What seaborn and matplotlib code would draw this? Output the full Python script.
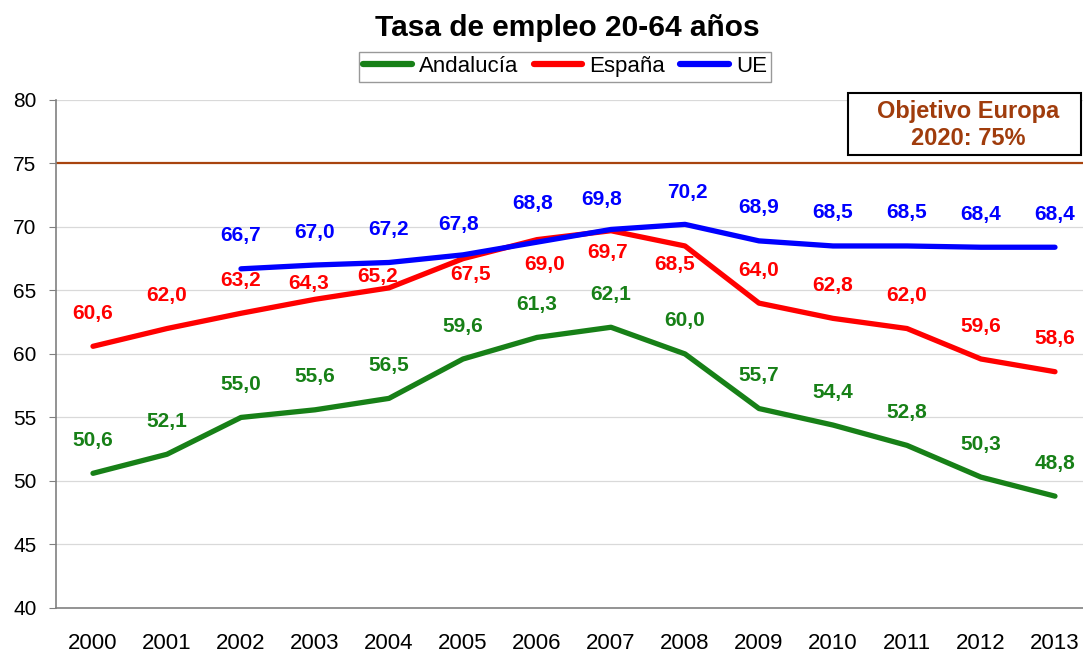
import numpy as np
import pandas as pd
import seaborn as sns
from matplotlib import pyplot as plt
from matplotlib.patches import Rectangle

years = [2000, 2001, 2002, 2003, 2004, 2005, 2006, 2007, 2008, 2009, 2010, 2011, 2012, 2013]
andalucia = [50.6, 52.1, 55.0, 55.6, 56.5, 59.6, 61.3, 62.1, 60.0, 55.7, 54.4, 52.8, 50.3, 48.8]
espana = [60.6, 62.0, 63.2, 64.3, 65.2, 67.5, 69.0, 69.7, 68.5, 64.0, 62.8, 62.0, 59.6, 58.6]
ue_years = [2002, 2003, 2004, 2005, 2006, 2007, 2008, 2009, 2010, 2011, 2012, 2013]
ue = [66.7, 67.0, 67.2, 67.8, 68.8, 69.8, 70.2, 68.9, 68.5, 68.5, 68.4, 68.4]
objetivo = 75

colors = {"Andalucía": "#178017", "España": "#ff0000", "UE": "#0000ff"}

# label placement (pixels), default is 33px above the point
label_shift = {
    ("España", 2003): (-6, 16), ("España", 2004): (-11, 11),
    ("España", 2005): (8, -16), ("España", 2006): (8, -25),
    ("España", 2007): (-3, -22), ("España", 2008): (-10, -19),
    ("UE", 2005): (-4, 30), ("UE", 2006): (-4, 39),
    ("UE", 2007): (-9, 30), ("UE", 2008): (2, 32),
}

rows = []
for y, v in zip(years, andalucia):
    rows.append(("Andalucía", y, v))
for y, v in zip(years, espana):
    rows.append(("España", y, v))
for y, v in zip(ue_years, ue):
    rows.append(("UE", y, v))
df = pd.DataFrame(rows, columns=["serie", "year", "value"])
df["pos"] = df["year"] - years[0]

sns.set_style("white")
plt.rcParams['font.family'] = ['Liberation Sans', 'DejaVu Sans']
plt.rcParams['text.color'] = 'black'
plt.rcParams['xtick.color'] = 'black'
plt.rcParams['ytick.color'] = 'black'

fig = plt.figure(figsize=(10.83, 6.53), dpi=100)
ax = fig.add_axes([0.0517, 0.069, 0.9566, 0.778])

for v in range(45, 81, 5):
    if v != objetivo:
        ax.axhline(v, color="#d9d9d9", lw=0.9, zorder=0)
ax.axhline(objetivo, color="#a8440e", lw=1.6, zorder=1)

sns.lineplot(data=df, x="pos", y="value", hue="serie", palette=colors,
             linewidth=3.8, ax=ax, legend=False, sort=False)

for _, r in df.iterrows():
    dx, dy = label_shift.get((r["serie"], r["year"]), (0, 33))
    ax.annotate(f"{r['value']:.1f}".replace(".", ","), (r["pos"], r["value"]),
                xytext=(dx, dy), textcoords="offset pixels", ha="center", va="center",
                color=colors[r["serie"]], fontsize=15, fontweight="bold")

ax.set_xlim(-0.5, 13.5)
ax.set_ylim(40, 80)
ax.set_yticks(range(40, 81, 5))
ax.set_xticks(np.arange(14))
ax.set_xticklabels([str(y) for y in years])
ax.set_xticks(np.arange(-0.5, 14, 1), minor=True)
ax.tick_params(axis="x", which="major", length=0, pad=18, labelsize=16)
ax.tick_params(axis="x", which="minor", length=5, color="#808080", width=1)
ax.tick_params(axis="y", length=5, left=True, labelsize=15, color="#808080", pad=9)
ax.set_xlabel("")
ax.set_ylabel("")
for s in ["top", "right"]:
    ax.spines[s].set_visible(False)
for s in ["left", "bottom"]:
    ax.spines[s].set_color("#808080")
    ax.spines[s].set_linewidth(1.2)

# Objetivo box
fig.patches.append(Rectangle((0.783, 0.7626), 0.215, 0.095, transform=fig.transFigure,
                             fc="white", ec="black", lw=1.5, zorder=5))
fig.text(0.894, 0.830, "Objetivo Europa", ha="center", va="center", fontsize=17,
         fontweight="bold", color="#a03c0c", zorder=6)
fig.text(0.894, 0.788, "2020: 75%", ha="center", va="center", fontsize=17,
         fontweight="bold", color="#a03c0c", zorder=6)

fig.text(0.5235, 0.957, "Tasa de empleo 20-64 años", ha="center", va="center",
         fontsize=21.5, fontweight="bold", color="black")

handles = [plt.Line2D([], [], color=c, lw=4.5) for c in colors.values()]
fig.legend(handles, list(colors.keys()), loc="center", bbox_to_anchor=(0.5217, 0.898),
           ncol=3, frameon=True, fancybox=False, edgecolor="#808080", fontsize=16,
           handlelength=2.2, handletextpad=0.3, columnspacing=0.7,
           borderpad=0.2, borderaxespad=0, labelcolor="black")

fig.savefig("out.png", dpi=100)
